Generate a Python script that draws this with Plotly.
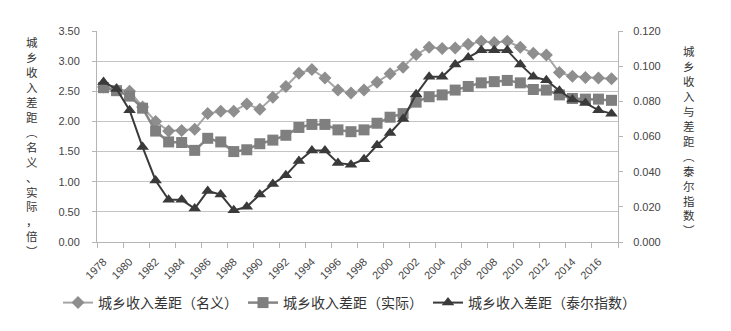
import plotly.graph_objects as go

years = list(range(1978, 2018))

nominal = [2.57, 2.53, 2.50, 2.24, 2.00, 1.84, 1.85, 1.87, 2.13, 2.17, 2.17, 2.29,
           2.20, 2.40, 2.58, 2.80, 2.86, 2.72, 2.52, 2.47, 2.52, 2.65, 2.79, 2.90,
           3.11, 3.23, 3.21, 3.22, 3.28, 3.33, 3.31, 3.33, 3.23, 3.13, 3.10, 2.81,
           2.75, 2.73, 2.72, 2.71]

real = [2.56, 2.51, 2.42, 2.22, 1.84, 1.66, 1.65, 1.52, 1.72, 1.66, 1.50, 1.53,
        1.63, 1.69, 1.77, 1.90, 1.95, 1.95, 1.86, 1.83, 1.86, 1.97, 2.07, 2.13,
        2.32, 2.41, 2.44, 2.52, 2.58, 2.64, 2.66, 2.68, 2.64, 2.53, 2.52, 2.44,
        2.38, 2.37, 2.37, 2.35]

theil = [0.091, 0.087, 0.075, 0.054, 0.035, 0.024, 0.024, 0.019, 0.029, 0.027,
         0.018, 0.020, 0.027, 0.033, 0.038, 0.046, 0.052, 0.052, 0.045, 0.044,
         0.047, 0.055, 0.062, 0.070, 0.084, 0.094, 0.094, 0.101, 0.105, 0.109,
         0.109, 0.109, 0.101, 0.094, 0.092, 0.086, 0.081, 0.079, 0.075, 0.073]

names = ["城乡收入差距（名义）", "城乡收入差距（实际）", "城乡收入差距（泰尔指数）"]
xtick_years = list(range(1978, 2017, 2))

left_title = "城乡收入差距︵名义、实际，倍︶"
right_title = "城乡收入与差距︵泰尔指数︶"

CJK = "Noto Sans CJK SC"
LAT = "Liberation Sans"

W, H = 731, 331
ML, MR, MT, MB = 97, 113, 31, 89

fig = go.Figure()
fig.add_trace(go.Scatter(x=years, y=nominal, name=names[0], mode="lines+markers",
                         line=dict(color="#a6a6a6", width=2),
                         marker=dict(symbol="diamond", size=10, color="#8e8e8e")))
fig.add_trace(go.Scatter(x=years, y=real, name=names[1], mode="lines+markers",
                         line=dict(color="#858585", width=2.5),
                         marker=dict(symbol="square", size=11, color="#7f7f7f")))
fig.add_trace(go.Scatter(x=years, y=theil, name=names[2], mode="lines+markers", yaxis="y2",
                         line=dict(color="#3a3a3a", width=2),
                         marker=dict(symbol="triangle-up", size=11, color="#3a3a3a")))

fig.update_layout(
    width=W, height=H,
    margin=dict(l=ML, r=MR, t=MT, b=MB, autoexpand=False),
    paper_bgcolor="white", plot_bgcolor="white",
    font=dict(family=LAT, size=11, color="#444444"),
    xaxis=dict(range=[1977.5, 2017.5], tickvals=xtick_years,
               ticktext=[str(y) for y in xtick_years], tickangle=-45,
               ticks="", showgrid=False, showline=True, linecolor="#b5b5b5",
               linewidth=1, zeroline=False, tickfont=dict(size=11, color="#444444"),
               ticklabelstandoff=8,
               minor=dict(tick0=1977.5, dtick=2, ticks="outside", ticklen=5,
                          tickcolor="#b5b5b5", showgrid=False)),
    yaxis=dict(range=[0, 3.5], dtick=0.5, tickformat=".2f", showgrid=True,
               gridcolor="#c4c4c4", gridwidth=1, showline=True, linecolor="#b5b5b5",
               ticks="outside", ticklen=4, tickcolor="#b5b5b5", zeroline=False,
               ticklabelstandoff=10, tickfont=dict(size=11, color="#444444")),
    yaxis2=dict(range=[0, 0.12], dtick=0.02, tickformat=".3f", overlaying="y",
                side="right", showgrid=False, showline=True, linecolor="#b5b5b5",
                ticks="outside", ticklen=4, tickcolor="#b5b5b5", zeroline=False,
                ticklabelstandoff=8, tickfont=dict(size=11, color="#444444")),
    legend=dict(orientation="h", xref="paper", yref="paper",
                x=(58 - ML) / (W - ML - MR), xanchor="left",
                y=1 - (303 - MT) / (H - MT - MB), yanchor="middle",
                font=dict(family=CJK, size=14, color="#333333"),
                tracegroupgap=0, itemwidth=30),
    showlegend=True,
)

pw = W - ML - MR
ph = H - MT - MB


def px_to_paper(px, py):
    return (px - ML) / pw, 1 - (py - MT) / ph


lx, ly = px_to_paper(32, 146)
rx, ry = px_to_paper(689, 140)
fig.add_annotation(text="<br>".join(left_title), x=lx, y=ly, xref="paper", yref="paper",
                   xanchor="center", yanchor="middle", showarrow=False,
                   font=dict(family=CJK, size=11.5, color="#333333"), align="center")
fig.add_annotation(text="<br>".join(right_title), x=rx, y=ry, xref="paper", yref="paper",
                   xanchor="center", yanchor="middle", showarrow=False,
                   font=dict(family=CJK, size=11.5, color="#333333"), align="center")

fig.write_html("out.html", config={"displayModeBar": False},
               post_script="document.body.style.margin='0';")
